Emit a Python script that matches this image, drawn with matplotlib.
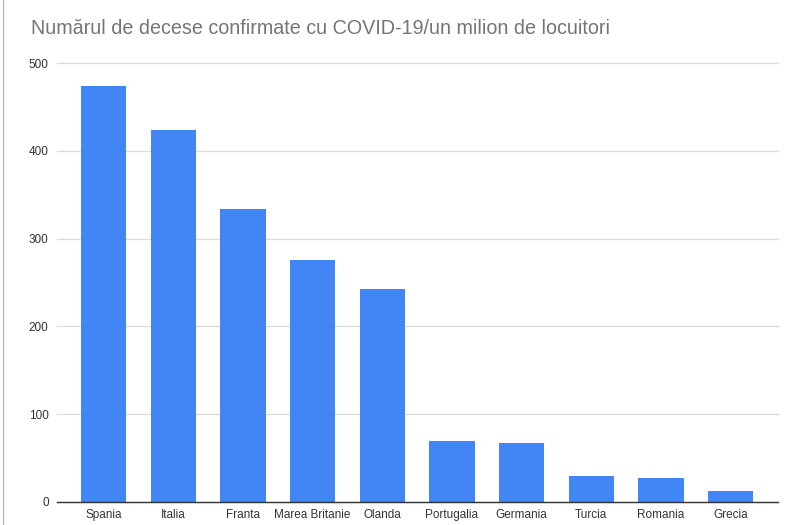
import matplotlib
matplotlib.use("Agg")
import matplotlib.pyplot as plt
from matplotlib.lines import Line2D

categories = ["Spania", "Italia", "Franta", "Marea Britanie", "Olanda",
              "Portugalia", "Germania", "Turcia", "Romania", "Grecia"]
values = [474, 424, 334, 276, 243, 69, 67, 30, 27, 12]
yticks = [0, 100, 200, 300, 400, 500]
title = "Numărul de decese confirmate cu COVID-19/un milion de locuitori"

plt.rcParams['font.family'] = ['Liberation Sans', 'DejaVu Sans']

fig = plt.figure(figsize=(8, 5.25), dpi=100)
ax = fig.add_axes([57/800, 1-502/525, (778-57)/800, (502-63)/525])

x = list(range(len(categories)))
ax.bar(x, values, width=0.65, color="#4285F4", zorder=3)

ax.set_xlim(-0.67, len(categories) - 1 + 0.68)
ax.set_ylim(0, 500)
ax.set_yticks(yticks)
ax.set_yticklabels([str(t) for t in yticks])
ax.set_xticks(x)
ax.set_xticklabels(categories)
ax.grid(axis='y', color="#dddddd", linewidth=1, zorder=0)
for g in ax.get_ygridlines():
    g.set_clip_on(False)
ax.grid(axis='x', visible=False)
for s in ["top", "right", "left"]:
    ax.spines[s].set_visible(False)
ax.spines["bottom"].set_color("#333333")
ax.spines["bottom"].set_linewidth(1)
ax.spines["bottom"].set_zorder(4)
ax.tick_params(axis='both', length=0, labelsize=8.5, colors="#333333")
ax.tick_params(axis='y', pad=6)
ax.tick_params(axis='x', pad=5)

fig.text(31/800, 1-28/525, title, fontsize=14.2, color="#757575",
         ha='left', va='center')

fig.add_artist(Line2D([2.5/800, 2.5/800], [0, 1], color="#bbbbbb", linewidth=1))

fig.savefig("out.png", dpi=100)
